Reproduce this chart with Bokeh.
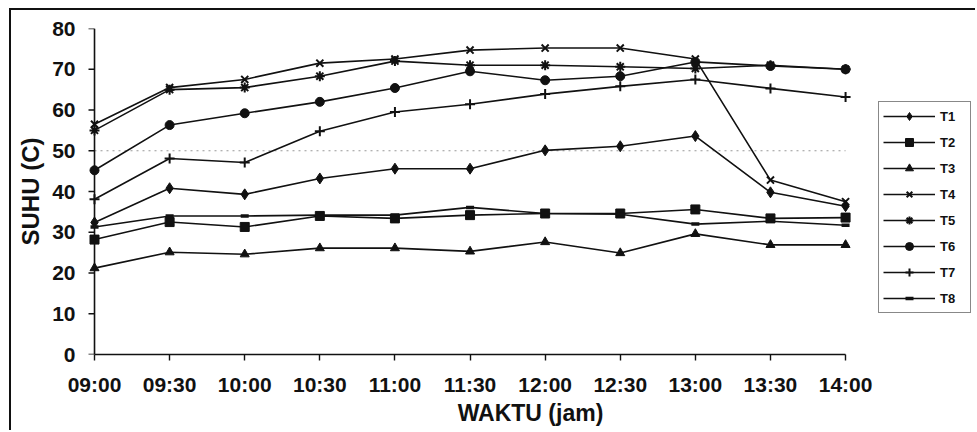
from bokeh.plotting import figure
from bokeh.layouts import column
from bokeh.models import Range1d, FixedTicker, Legend, LegendItem, Span
from bokeh.embed import file_html
from bokeh.resources import INLINE

# ---- data ----
times = ["09:00", "09:30", "10:00", "10:30", "11:00", "11:30",
         "12:00", "12:30", "13:00", "13:30", "14:00"]
y_ticks = [0, 10, 20, 30, 40, 50, 60, 70, 80]
grid_at = [50]

T1 = [32.4, 40.8, 39.3, 43.2, 45.6, 45.6, 50.1, 51.1, 53.6, 39.8, 36.4]
T2 = [28.2, 32.5, 31.3, 34.0, 33.4, 34.2, 34.6, 34.6, 35.6, 33.4, 33.6]
T3 = [21.2, 25.1, 24.6, 26.1, 26.1, 25.3, 27.6, 24.9, 29.6, 26.9, 26.9]
T4 = [56.5, 65.5, 67.5, 71.5, 72.5, 74.7, 75.2, 75.2, 72.5, 42.8, 37.5]
T5 = [55.0, 65.0, 65.5, 68.3, 72.0, 71.0, 71.0, 70.6, 70.2, 71.0, 70.0]
T6 = [45.2, 56.3, 59.2, 62.0, 65.4, 69.5, 67.3, 68.3, 71.8, 70.8, 70.0]
T7 = [38.1, 48.1, 47.1, 54.8, 59.5, 61.4, 63.9, 65.8, 67.5, 65.3, 63.2]
T8 = [31.3, 34.0, 34.0, 34.2, 34.2, 36.1, 34.6, 34.4, 32.0, 32.7, 31.7]

series_names = ["T1", "T2", "T3", "T4", "T5", "T6", "T7", "T8"]
series_vals = [T1, T2, T3, T4, T5, T6, T7, T8]
markers = ["diamond", "square", "triangle", "x", "asterisk", "circle", "cross", "dash"]

x = list(range(len(times)))
last = len(times) - 1
INK = "#111111"
FONT = "Liberation Sans"

p = figure(width=966, height=422,
           x_range=Range1d(-0.12, 11.73), y_range=Range1d(0, 80),
           output_backend="svg", toolbar_location=None,
           min_border_left=74, min_border_right=2,
           min_border_top=18, min_border_bottom=78)
p.outline_line_color = None
p.background_fill_color = "white"
p.border_fill_color = "white"

# x axis (category positions 0..10)
p.xaxis.ticker = FixedTicker(ticks=x)
p.xaxis.major_label_overrides = {i: t for i, t in enumerate(times)}
p.xaxis.bounds = (0, last)
p.xaxis.axis_line_color = INK
p.xaxis.axis_line_width = 1.6
p.xaxis.major_tick_line_color = INK
p.xaxis.major_tick_line_width = 1.4
p.xaxis.major_tick_out = 6
p.xaxis.major_tick_in = 0
p.xaxis.major_label_standoff = 12
p.xaxis.axis_label = "WAKTU (jam)"
p.xaxis.axis_label_text_font_size = "23px"
p.xaxis.axis_label_standoff = 1

# y axis: labels from the axis, line and ticks drawn at the first category
p.yaxis.ticker = FixedTicker(ticks=y_ticks)
p.yaxis.axis_line_color = None
p.yaxis.major_tick_line_color = None
p.yaxis.major_tick_out = 0
p.yaxis.major_tick_in = 0
p.yaxis.major_label_standoff = 10
p.yaxis.axis_label = "SUHU (C)"
p.yaxis.axis_label_text_font_size = "24px"
p.yaxis.axis_label_standoff = 5

for ax in (p.xaxis, p.yaxis):
    ax.minor_tick_line_color = None
    ax.major_label_text_font = FONT
    ax.major_label_text_font_style = "bold"
    ax.major_label_text_font_size = "21px"
    ax.major_label_text_color = INK
    ax.axis_label_text_font = FONT
    ax.axis_label_text_font_style = "bold"
    ax.axis_label_text_color = INK

p.add_layout(Span(location=0, dimension="height", line_color=INK, line_width=1.6))
p.segment(x0=[0] * len(y_ticks), y0=y_ticks, x1=[-0.08] * len(y_ticks), y1=y_ticks,
          line_color=INK, line_width=1.4)

# single dotted gridline, limited to the category span
p.xgrid.grid_line_color = None
p.ygrid.grid_line_color = None
p.segment(x0=[0] * len(grid_at), y0=grid_at, x1=[last] * len(grid_at), y1=grid_at,
          line_color="#999999", line_dash="2 4", line_width=1)

items = []
for name, vals, mk in zip(series_names, series_vals, markers):
    r1 = p.line(x, vals, line_color=INK, line_width=1.6)
    if mk in ("x", "asterisk", "cross"):
        r2 = p.scatter(x, vals, marker=mk, size=10, line_color=INK, line_width=2)
    elif mk == "dash":
        r2 = p.scatter(x, vals, marker=mk, size=8, line_color=INK, line_width=3.5)
    else:
        sz = 9 if mk != "diamond" else 11
        r2 = p.scatter(x, vals, marker=mk, size=sz, line_color=INK, fill_color=INK)
    items.append(LegendItem(label=name, renderers=[r1, r2]))

legend = Legend(items=items, location=(793, 41))
legend.border_line_color = INK
legend.border_line_width = 1.6
legend.background_fill_color = "white"
legend.background_fill_alpha = 1
legend.padding = 4
legend.margin = 0
legend.spacing = 6
legend.glyph_width = 52
legend.glyph_height = 20
legend.label_height = 20
legend.label_width = 26
legend.label_standoff = 5
legend.label_text_font = FONT
legend.label_text_font_style = "bold"
legend.label_text_font_size = "13px"
legend.label_text_color = INK
p.add_layout(legend)

# outer chart border (left and top edges visible in the reference)
p.styles = {"border-left": "2px solid #111111", "border-top": "2px solid #111111"}
page = column(p)
page.styles = {"padding-left": "9px", "padding-top": "8px", "background-color": "white"}

open("out.html", "w").write(file_html(page, INLINE))
